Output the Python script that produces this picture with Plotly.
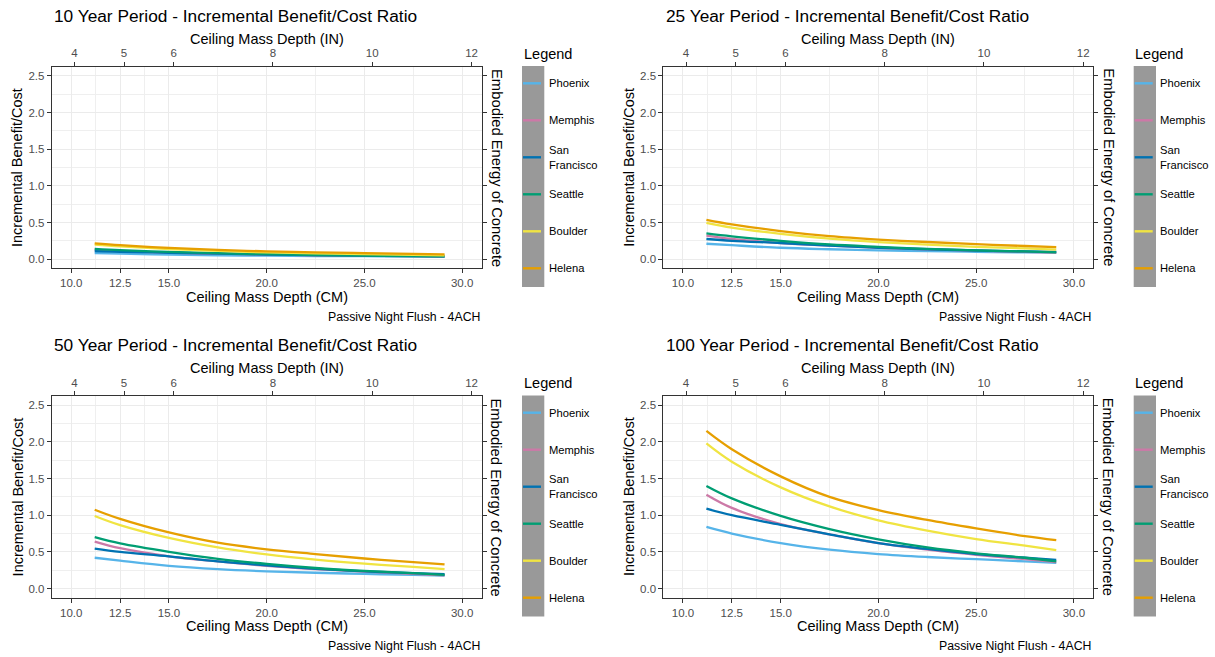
import plotly.graph_objects as go

# Ceiling mass depth (cm) at which each ratio is evaluated
depth_cm = [11.2, 12.5, 15.0, 17.5, 20.0, 22.5, 25.0, 27.5, 29.1]

cities = ["Phoenix", "Memphis", "San Francisco", "Seattle", "Boulder", "Helena"]
city_labels = ["Phoenix", "Memphis", "San<br>Francisco", "Seattle", "Boulder", "Helena"]
city_colors = ["#56B4E9", "#CC79A7", "#0072B2", "#009E73", "#F0E442", "#E69F00"]

# 10 year period
phoenix_10 = [0.084, 0.075, 0.062, 0.053, 0.047, 0.043, 0.040, 0.037, 0.035]
memphis_10 = [0.128, 0.110, 0.088, 0.074, 0.062, 0.053, 0.046, 0.040, 0.036]
sanfran_10 = [0.109, 0.100, 0.087, 0.074, 0.062, 0.054, 0.047, 0.042, 0.039]
seattle_10 = [0.140, 0.123, 0.099, 0.081, 0.067, 0.056, 0.048, 0.042, 0.037]
boulder_10 = [0.198, 0.173, 0.138, 0.112, 0.093, 0.079, 0.067, 0.058, 0.052]
helena_10 = [0.215, 0.190, 0.153, 0.125, 0.107, 0.093, 0.082, 0.072, 0.066]

# 25 year period
phoenix_25 = [0.210, 0.190, 0.155, 0.135, 0.120, 0.108, 0.100, 0.093, 0.088]
memphis_25 = [0.320, 0.275, 0.220, 0.185, 0.155, 0.133, 0.115, 0.100, 0.090]
sanfran_25 = [0.275, 0.250, 0.220, 0.185, 0.155, 0.135, 0.118, 0.105, 0.098]
seattle_25 = [0.350, 0.310, 0.250, 0.200, 0.168, 0.140, 0.120, 0.105, 0.093]
boulder_25 = [0.495, 0.430, 0.345, 0.280, 0.233, 0.198, 0.168, 0.146, 0.131]
helena_25 = [0.537, 0.475, 0.383, 0.313, 0.267, 0.234, 0.205, 0.179, 0.165]

# 50 year period
phoenix_50 = [0.420, 0.380, 0.310, 0.265, 0.235, 0.215, 0.200, 0.185, 0.175]
memphis_50 = [0.640, 0.550, 0.440, 0.370, 0.310, 0.265, 0.230, 0.200, 0.180]
sanfran_50 = [0.545, 0.500, 0.440, 0.370, 0.315, 0.270, 0.235, 0.210, 0.195]
seattle_50 = [0.700, 0.615, 0.500, 0.405, 0.335, 0.280, 0.240, 0.210, 0.185]
boulder_50 = [0.990, 0.865, 0.690, 0.560, 0.465, 0.395, 0.340, 0.295, 0.265]
helena_50 = [1.075, 0.950, 0.765, 0.625, 0.535, 0.470, 0.410, 0.360, 0.330]

# 100 year period
phoenix_100 = [0.84, 0.75, 0.62, 0.53, 0.47, 0.43, 0.40, 0.37, 0.35]
memphis_100 = [1.28, 1.10, 0.88, 0.74, 0.62, 0.53, 0.46, 0.40, 0.36]
sanfran_100 = [1.09, 1.00, 0.87, 0.74, 0.62, 0.54, 0.47, 0.42, 0.39]
seattle_100 = [1.40, 1.23, 0.99, 0.81, 0.67, 0.56, 0.48, 0.42, 0.37]
boulder_100 = [1.98, 1.73, 1.38, 1.12, 0.93, 0.79, 0.675, 0.585, 0.525]
helena_100 = [2.15, 1.90, 1.53, 1.25, 1.07, 0.935, 0.82, 0.715, 0.66]

panel_titles = [
    "10 Year Period - Incremental Benefit/Cost Ratio",
    "25 Year Period - Incremental Benefit/Cost Ratio",
    "50 Year Period - Incremental Benefit/Cost Ratio",
    "100 Year Period - Incremental Benefit/Cost Ratio",
]
panel_series = [
    [phoenix_10, memphis_10, sanfran_10, seattle_10, boulder_10, helena_10],
    [phoenix_25, memphis_25, sanfran_25, seattle_25, boulder_25, helena_25],
    [phoenix_50, memphis_50, sanfran_50, seattle_50, boulder_50, helena_50],
    [phoenix_100, memphis_100, sanfran_100, seattle_100, boulder_100, helena_100],
]

cm_ticks = [10, 12.5, 15, 20, 25, 30]
cm_ticktext = ["10.0", "12.5", "15.0", "20.0", "25.0", "30.0"]
cm_minor = [11.25, 13.75, 17.5, 22.5, 27.5]
in_ticks = [4, 5, 6, 8, 10, 12]
y_ticks = [0, 0.5, 1.0, 1.5, 2.0, 2.5]
y_minor = [0.25, 0.75, 1.25, 1.75, 2.25]

W, H = 1215, 657
FONT = "Liberation Sans, Arial, sans-serif"
X_RANGE = [9, 31]
Y_RANGE = [-0.125, 2.625]

# panel origins in pixels (left, top)
origins = [(0, 0), (611.7, 0), (0, 329.4), (611.7, 329.4)]


def px(x):
    return x / W


def py(y):
    return 1 - y / H


fig = go.Figure()
layout = {}
annotations = []
shapes = []

tick_font = dict(family=FONT, size=11.5, color="#4D4D4D")
axis_common = dict(
    showline=True, linecolor="#333333", linewidth=1, mirror=False,
    ticks="outside", ticklen=4, tickwidth=1, tickcolor="#333333",
    zeroline=False, tickfont=tick_font,
)

for k, (ox, oy) in enumerate(origins):
    a, b = 2 * k + 1, 2 * k + 2
    xa = "x" if a == 1 else f"x{a}"
    ya = "y" if a == 1 else f"y{a}"
    xb, yb = f"x{b}", f"y{b}"
    left, right = ox + 51.7, ox + 481.7
    top, bottom = oy + 66.7, oy + 268.3
    xdom = [px(left), px(right)]
    ydom = [py(bottom), py(top)]

    layout["xaxis" if a == 1 else f"xaxis{a}"] = dict(
        axis_common, domain=xdom, anchor=ya, range=X_RANGE,
        tickmode="array", tickvals=cm_ticks, ticktext=cm_ticktext,
        showgrid=True, gridcolor="#EBEBEB", gridwidth=1.1,
        minor=dict(tickmode="array", tickvals=cm_minor, showgrid=True,
                   gridcolor="#EFEFEF", gridwidth=0.7, ticks=""),
    )
    layout["yaxis" if a == 1 else f"yaxis{a}"] = dict(
        axis_common, domain=ydom, anchor=xa, range=Y_RANGE,
        tickmode="array", tickvals=y_ticks, tickformat=".1f",
        showgrid=True, gridcolor="#EBEBEB", gridwidth=1.1,
        minor=dict(tickmode="array", tickvals=y_minor, showgrid=True,
                   gridcolor="#EFEFEF", gridwidth=0.7, ticks=""),
    )
    # secondary axes: inches along the top, unlabeled ticks on the right
    layout[f"xaxis{b}"] = dict(
        axis_common, overlaying=xa, anchor=ya, side="top",
        range=[X_RANGE[0] / 2.54, X_RANGE[1] / 2.54],
        tickmode="array", tickvals=in_ticks, showgrid=False,
    )
    layout[f"yaxis{b}"] = dict(
        axis_common, overlaying=ya, anchor=xa, side="right",
        range=Y_RANGE, tickmode="array", tickvals=y_ticks,
        showticklabels=False, showgrid=False,
    )

    fig.add_trace(go.Scatter(x=[], y=[], xaxis=xb, yaxis=yb,
                             showlegend=False, hoverinfo="skip"))
    for name, color, vals in zip(cities, city_colors, panel_series[k]):
        fig.add_trace(go.Scatter(
            x=depth_cm, y=vals, xaxis=xa, yaxis=ya, name=name,
            mode="lines", line=dict(color=color, width=2.3, shape="spline"),
            showlegend=False,
        ))

    cx = (left + right) / 2
    cy = (top + bottom) / 2
    annotations += [
        dict(text=panel_titles[k], x=px(ox + 52), y=py(oy + 16),
             xanchor="left", yanchor="middle",
             font=dict(family=FONT, size=17.3, color="black")),
        dict(text="Ceiling Mass Depth (IN)", x=px(cx), y=py(oy + 39),
             xanchor="center", yanchor="middle",
             font=dict(family=FONT, size=14.5, color="black")),
        dict(text="Ceiling Mass Depth (CM)", x=px(cx), y=py(oy + 297),
             xanchor="center", yanchor="middle",
             font=dict(family=FONT, size=14.5, color="black")),
        dict(text="Passive Night Flush - 4ACH", x=px(right), y=py(oy + 316.7),
             xanchor="right", yanchor="middle",
             font=dict(family=FONT, size=12.3, color="black")),
        dict(text="Incremental Benefit/Cost", x=px(ox + 17.5), y=py(cy),
             xanchor="center", yanchor="middle", textangle=-90,
             font=dict(family=FONT, size=14.5, color="black")),
        dict(text="Embodied Energy of Concrete", x=px(ox + 496.5), y=py(cy),
             xanchor="center", yanchor="middle", textangle=90,
             font=dict(family=FONT, size=14.8, color="black")),
        dict(text="Legend", x=px(ox + 521.5), y=py(oy + 54),
             xanchor="left", yanchor="middle",
             font=dict(family=FONT, size=14.5, color="black")),
    ]

    # legend panel
    shapes.append(dict(type="rect", xref="paper", yref="paper",
                       x0=px(ox + 522), x1=px(ox + 544.3),
                       y0=py(oy + 287), y1=py(oy + 66),
                       fillcolor="#999999", line=dict(width=0), layer="above"))
    for i, (lab, color) in enumerate(zip(city_labels, city_colors)):
        ky = oy + 83.3 + 37 * i
        shapes.append(dict(type="line", xref="paper", yref="paper",
                           x0=px(ox + 523), x1=px(ox + 541),
                           y0=py(ky), y1=py(ky),
                           line=dict(color=color, width=2.4), layer="above"))
        annotations.append(dict(
            text=lab, x=px(ox + 546.5), y=py(ky), xanchor="left",
            yanchor="middle", align="left",
            font=dict(family=FONT, size=11.2, color="black"),
        ))

for ann in annotations:
    ann.update(xref="paper", yref="paper", showarrow=False)

fig.update_layout(
    width=W, height=H, margin=dict(l=0, r=0, t=0, b=0),
    paper_bgcolor="white", plot_bgcolor="white",
    showlegend=False, annotations=annotations, shapes=shapes,
    font=dict(family=FONT),
    **layout,
)

fig.write_html("out.html")
